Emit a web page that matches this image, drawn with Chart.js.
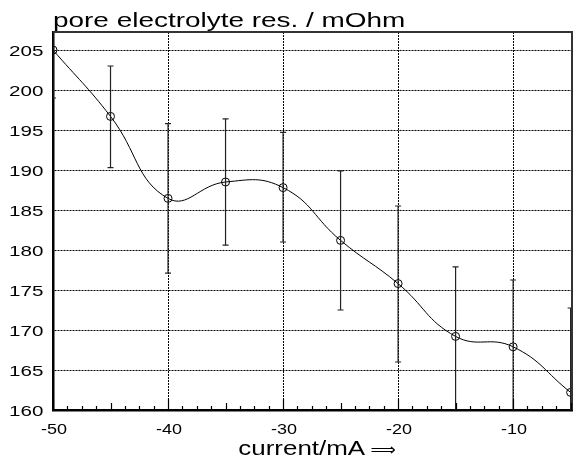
<!DOCTYPE html>
<html>
<head>
<meta charset="utf-8">
<script src="https://cdn.jsdelivr.net/npm/chart.js@4/dist/chart.umd.min.js"></script>
<style>
  html, body { margin: 0; padding: 0; background: #fff; }
  canvas { display: block; }
</style>
</head>
<body>
<canvas id="chart" width="577" height="457"></canvas>
<script>
// values
const currents = [-50, -45, -40, -35, -30, -25, -20, -15, -10, -5];
const resistance = [205.0, 196.7, 186.45, 188.5, 187.8, 181.2, 175.8, 169.2, 167.9, 162.2];
const errHigh = [211.0, 203.0, 195.8, 196.4, 194.7, 189.9, 185.5, 177.9, 176.25, 172.75];
const errLow = [199.0, 190.3, 177.1, 180.6, 181.0, 172.5, 166.0, 160.0, 158.5, 152.0];
const xTicks = [-50, -40, -30, -20, -10];
const yTicks = [160, 165, 170, 175, 180, 185, 190, 195, 200, 205];
const chartTitle = 'pore electrolyte res. / mOhm';
const xTitle = 'current/mA';

const FONT = '"Liberation Sans", Arial, Helvetica, sans-serif';
const SX = 1.33; // the original text is a bit wide

// draws text stretched horizontally
function wideText(ctx, text, x, y, align, sx) {
  const w = ctx.measureText(text).width * sx;
  let left = x;
  if (align === 'center') left = x - w / 2;
  else if (align === 'right') left = x - w;
  ctx.save();
  ctx.translate(left, y);
  ctx.scale(sx, 1);
  ctx.textAlign = 'left';
  ctx.textBaseline = 'alphabetic';
  ctx.fillText(text, 0, 0);
  ctx.restore();
}

// error bars, clipped to the plot box
const errorBars = {
  id: 'errorBars',
  afterDatasetsDraw(chart) {
    const { ctx, chartArea: a, scales: { x, y } } = chart;
    ctx.save();
    ctx.beginPath();
    ctx.rect(a.left, a.top, a.right - a.left, a.bottom - a.top);
    ctx.clip();
    ctx.strokeStyle = '#222';
    ctx.lineWidth = 1.2;
    currents.forEach((c, i) => {
      const px = x.getPixelForValue(c);
      const top = y.getPixelForValue(errHigh[i]);
      const bot = y.getPixelForValue(errLow[i]);
      ctx.beginPath();
      ctx.moveTo(px, top); ctx.lineTo(px, bot);
      ctx.moveTo(px - 3, top); ctx.lineTo(px + 3, top);
      ctx.moveTo(px - 3, bot); ctx.lineTo(px + 3, bot);
      ctx.stroke();
    });
    ctx.restore();
  }
};

// frame, minor ticks and all the text
const decorations = {
  id: 'decorations',
  afterDraw(chart) {
    const { ctx, chartArea: a, scales: { x, y } } = chart;
    ctx.save();
    // top + right frame
    ctx.strokeStyle = '#333';
    ctx.lineWidth = 2;
    ctx.beginPath();
    ctx.moveTo(a.left, a.top); ctx.lineTo(a.right, a.top); ctx.lineTo(a.right, a.bottom);
    ctx.stroke();

    // inner ticks on the bottom axis
    ctx.strokeStyle = '#000';
    ctx.lineWidth = 1.2;
    for (let v = x.min; v <= x.max + 1e-6; v += 1.25) {
      const r = Math.abs(v % 10) < 1e-6 ? 11 : (Math.abs(v % 5) < 1e-6 ? 7 : 4);
      const px = Math.round(x.getPixelForValue(v)) + 0.5;
      ctx.beginPath();
      ctx.moveTo(px, a.bottom); ctx.lineTo(px, a.bottom - r);
      ctx.stroke();
    }

    ctx.fillStyle = '#000';
    // y tick labels
    ctx.font = '15.5px ' + FONT;
    yTicks.forEach(v => {
      wideText(ctx, String(v), a.left - 9.5, y.getPixelForValue(v) + 5.8, 'right', SX);
    });
    // x tick labels
    ctx.font = '15px ' + FONT;
    xTicks.forEach(v => {
      wideText(ctx, String(v), x.getPixelForValue(v) + 1, 433.5, 'center', 1.2);
    });
    // title
    ctx.font = '21px ' + FONT;
    wideText(ctx, chartTitle, a.left, 26.7, 'left', SX);
    // axis title with arrow
    ctx.font = '19.5px ' + FONT;
    wideText(ctx, xTitle, 238.3, 455.3, 'left', SX);
    ctx.font = '16px "DejaVu Sans", sans-serif';
    wideText(ctx, '\u27F9', 370.5, 455, 'left', 1.1);
    ctx.restore();
  }
};

new Chart(document.getElementById('chart'), {
  type: 'line',
  data: {
    datasets: [{
      data: currents.map((c, i) => ({ x: c, y: resistance[i] })),
      borderColor: '#000',
      borderWidth: 1,
      tension: 0.45,
      pointRadius: 4,
      pointStyle: 'circle',
      pointBorderColor: '#000',
      pointBorderWidth: 1,
      pointBackgroundColor: 'rgba(0,0,0,0)',
      fill: false
    }]
  },
  options: {
    responsive: false,
    devicePixelRatio: 1,
    animation: false,
    layout: { padding: { top: 32, right: 2.5, left: 0, bottom: 0 } },
    plugins: {
      legend: { display: false },
      title: { display: false },
      tooltip: { enabled: false }
    },
    scales: {
      x: {
        type: 'linear',
        min: -50,
        max: -4.88,
        afterBuildTicks: s => { s.ticks = xTicks.map(v => ({ value: v })); },
        afterFit: s => { s.height = 47; },
        ticks: { display: false },
        grid: { color: '#000', lineWidth: 1, drawTicks: false },
        border: { color: '#000', width: 2.5, dash: [2, 1] }
      },
      y: {
        type: 'linear',
        min: 160,
        max: 207.25,
        afterBuildTicks: s => { s.ticks = yTicks.map(v => ({ value: v })); },
        afterFit: s => { s.width = 53; },
        ticks: { display: false },
        grid: { color: '#000', lineWidth: 1, drawTicks: false },
        border: { color: '#000', width: 2.5, dash: [2, 1] }
      }
    }
  },
  plugins: [errorBars, decorations]
});
</script>
</body>
</html>
